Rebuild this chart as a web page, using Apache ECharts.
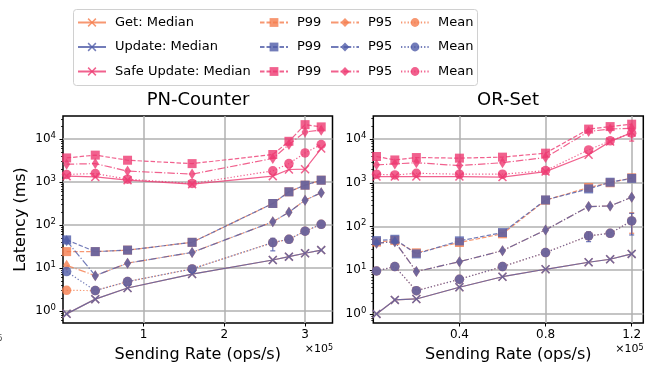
<!DOCTYPE html>
<html><head><meta charset="utf-8">
<script src="https://cdn.jsdelivr.net/npm/echarts@6/dist/echarts.min.js"></script>
<style>html,body{margin:0;padding:0;background:#fff}#c{width:659px;height:368px}</style>
</head><body><div id="c"></div>
<script>
// ---- data (x in units of 1e5 ops/s, latency in ms) ----
const pnX = [0.045, 0.4, 0.8, 1.6, 2.6, 2.8, 3.0, 3.2];
const pnGetMedian = [0.85, 1.87, 3.4, 7.2, 15.3, 18.3, 22, 26];
const pnGetP99 = [24, 24, 26, 39.5, 318, 594, 850, 1110];
const pnGetP95 = [11.5, 6.6, 12.9, 23, 119, 198, 380, 565];
const pnGetMean = [3.0, 2.96, 4.8, 9.5, 39, 46.5, 72, 104];
const pnUpdMedian = [0.85, 1.87, 3.4, 7.2, 15.3, 18.3, 22, 26];
const pnUpdP99 = [45, 24, 26, 39.5, 318, 594, 850, 1110];
const pnUpdP95 = [43, 6.6, 12.9, 23, 119, 198, 380, 565];
const pnUpdMean = [8.2, 2.96, 4.8, 9.5, 39, 46.5, 72, 104];
const pnSafeMedian = [1380, 1320, 1110, 895, 1380, 1970, 2000, 6070];
const pnSafeP99 = [3670, 4260, 3240, 2700, 4400, 8950, 21900, 19400];
const pnSafeP95 = [2620, 2700, 1810, 1540, 3560, 7520, 14800, 16300];
const pnSafeMean = [1510, 1590, 1170, 930, 1830, 2700, 4800, 7540];

const orX = [0.015, 0.1, 0.2, 0.4, 0.6, 0.8, 1.0, 1.1, 1.2];
const orGetMedian = [1.0, 2.09, 2.2, 4.08, 7.1, 10.5, 15.2, 17.8, 23.6];
const orGetP99 = [44, 48, 25, 43, 68, 400, 780, 1000, 1300];
const orGetP95 = [41.5, 45, 9.3, 15.7, 28, 83.5, 286, 295, 468];
const orGetMean = [9.6, 12.1, 3.4, 6.2, 12.1, 25.3, 61, 70, 134];
const orUpdMedian = [1.0, 2.09, 2.2, 4.08, 7.1, 10.5, 15.2, 17.8, 23.6];
const orUpdP99 = [47.5, 51, 23.6, 46.9, 72.6, 405, 724, 1030, 1260];
const orUpdP95 = [41.5, 45, 9.3, 15.7, 28, 83.5, 286, 295, 468];
const orUpdMean = [9.6, 12.1, 3.4, 6.2, 12.1, 25.3, 61, 70, 134];
const orSafeMedian = [1390, 1390, 1390, 1390, 1350, 1800, 4370, 8740, 14100];
const orSafeP99 = [3990, 3330, 3780, 3660, 3860, 4760, 16900, 19300, 21900];
const orSafeP95 = [2570, 2700, 2880, 2470, 2880, 3780, 14900, 17000, 17700];
const orSafeMean = [1570, 1510, 1650, 1570, 1570, 1900, 5640, 9120, 13600];

// error bars: [x, low, high]
const pnErrUpd = [[2.6, 25, 49]];
const orErrGet = [[1.2, 70, 205]];
const orErrUpd = [[1.0, 45, 76], [1.2, 64, 200]];
const orErrSafe = [[1.2, 9000, 17500]];

const yMajor = [1, 10, 100, 1000, 10000];
const yMinor = [0.6,0.7,0.8,0.9,2,3,4,5,6,7,8,9,20,30,40,50,60,70,80,90,200,300,400,500,600,700,800,900,2000,3000,4000,5000,6000,7000,8000,9000,20000,30000];
const pnXTicks = [1, 2, 3];
const orXTicks = [0.4, 0.8, 1.2];

// ---- styling ----
const FONT = 'DejaVu Sans';
const COL = {get: '#F57D4E', upd: '#4F5BA8', safe: '#EE3A72'};
const STAT = {
  Median: {symbol: 'path://M0,1.2L1.2,0L5,3.8L8.8,0L10,1.2L6.2,5L10,8.8L8.8,10L5,6.2L1.2,10L0,8.8L3.8,5Z', size: 9, dash: 'solid'},
  P99: {symbol: 'rect', size: 9, dash: [4.5, 2]},
  P95: {symbol: 'diamond', size: [7, 11], dash: [7.5, 2, 1.2, 2]},
  Mean: {symbol: 'circle', size: 9.5, dash: [1.3, 2]}
};
const OPS = [['get', 'Get'], ['upd', 'Update'], ['safe', 'Safe Update']];

function seriesName(opLabel, stat) {
  return stat === 'Median' ? opLabel + ': Median' : opLabel + ' ' + stat;
}
function mkLine(gi, op, opLabel, stat, xs, ys) {
  const st = STAT[stat];
  return {
    type: 'line', name: seriesName(opLabel, stat),
    xAxisIndex: gi, yAxisIndex: gi * 2,
    data: xs.map((x, i) => [x, ys[i]]),
    symbol: st.symbol, symbolSize: st.size, showAllSymbol: true,
    lineStyle: {color: COL[op], width: 1.2, type: st.dash, opacity: 0.8},
    itemStyle: {color: COL[op], opacity: 0.8},
    emphasis: {disabled: true}, animation: false, silent: true
  };
}
function mkErr(gi, op, arr) {
  return {
    type: 'custom', xAxisIndex: gi, yAxisIndex: gi * 2, data: arr, silent: true, animation: false,
    encode: {x: 0, y: [1, 2]}, z: 3,
    renderItem: function (params, api) {
      const x = api.value(0);
      const a = api.coord([x, api.value(1)]);
      const b = api.coord([x, api.value(2)]);
      const s = {stroke: COL[op], lineWidth: 1.2, opacity: 0.85};
      return {type: 'group', children: [
        {type: 'line', shape: {x1: a[0], y1: a[1], x2: b[0], y2: b[1]}, style: s},
        {type: 'line', shape: {x1: a[0] - 2.5, y1: a[1], x2: a[0] + 2.5, y2: a[1]}, style: s},
        {type: 'line', shape: {x1: b[0] - 2.5, y1: b[1], x2: b[0] + 2.5, y2: b[1]}, style: s}
      ]};
    }
  };
}

const panels = [
  {x: pnX, d: {get: [pnGetMedian, pnGetP99, pnGetP95, pnGetMean], upd: [pnUpdMedian, pnUpdP99, pnUpdP95, pnUpdMean], safe: [pnSafeMedian, pnSafeP99, pnSafeP95, pnSafeMean]}},
  {x: orX, d: {get: [orGetMedian, orGetP99, orGetP95, orGetMean], upd: [orUpdMedian, orUpdP99, orUpdP95, orUpdMean], safe: [orSafeMedian, orSafeP99, orSafeP95, orSafeMean]}}
];
const stats = ['Median', 'P99', 'P95', 'Mean'];
const series = [];
panels.forEach((p, gi) => {
  OPS.forEach(([op, lab]) => {
    stats.forEach((st, si) => series.push(mkLine(gi, op, lab, st, p.x, p.d[op][si])));
  });
});
series.push(mkErr(0, 'upd', pnErrUpd));
series.push(mkErr(1, 'get', orErrGet));
series.push(mkErr(1, 'upd', orErrUpd));
series.push(mkErr(1, 'safe', orErrSafe));

const tickFont = {fontFamily: FONT, fontSize: 12, color: '#000'};
function yMain(gi, min, max, showName) {
  return {
    type: 'log', logBase: 10, min: min, max: max, gridIndex: gi, position: 'left',
    name: showName ? 'Latency (ms)' : '', nameLocation: 'middle', nameGap: 34,
    nameTextStyle: {fontFamily: FONT, fontSize: 16, color: '#000'},
    axisLine: {show: false},
    axisTick: {show: true, length: 3.5, lineStyle: {color: '#000', width: 1}, customValues: yMajor},
    axisLabel: {show: true, margin: 7, customValues: yMajor,
      formatter: v => '{b|10}{s|' + Math.round(Math.log10(v)) + '}',
      rich: {b: {fontFamily: FONT, fontSize: 12, color: '#000', lineHeight: 16},
             s: {fontFamily: FONT, fontSize: 8.5, color: '#000', verticalAlign: 'top', lineHeight: 9}}},
    splitLine: {show: true, lineStyle: {color: '#b0b0b0', width: 1.5}},
    minorTick: {show: false}
  };
}
function yMinorAx(gi, min, max) {
  return {
    type: 'log', logBase: 10, min: min, max: max, gridIndex: gi, position: 'left', offset: 0,
    axisLine: {show: false}, axisLabel: {show: false}, splitLine: {show: false},
    axisTick: {show: true, length: 2, lineStyle: {color: '#000', width: 0.8}, customValues: yMinor.filter(v => v >= min && v <= max)}
  };
}
function xAx(gi, max, interval, ticks) {
  return {
    type: 'value', gridIndex: gi, min: 0, max: max, interval: interval, position: 'bottom',
    name: 'Sending Rate (ops/s)', nameLocation: 'middle', nameGap: 24,
    nameTextStyle: {fontFamily: FONT, fontSize: 16, color: '#000'},
    axisLine: {show: false},
    axisTick: {show: true, length: 3.5, lineStyle: {color: '#000', width: 1}, customValues: ticks},
    axisLabel: Object.assign({margin: 6, customValues: ticks, formatter: v => String(v)}, tickFont),
    splitLine: {show: true, lineStyle: {color: '#b0b0b0', width: 1.5}}
  };
}

function legendCol(left, stat) {
  return {
    orient: 'vertical', left: left, top: 16, padding: 0, itemGap: 11.5,
    itemWidth: 28, itemHeight: 11, selectedMode: false,
    data: OPS.map(o => seriesName(o[1], stat)),
    formatter: n => n.indexOf(':') >= 0 ? n : n.split(' ').pop(),
    textStyle: {fontFamily: FONT, fontSize: 13, color: '#000', padding: [0, 0, 0, 4]}
  };
}

const option = {
  animation: false,
  backgroundColor: '#fff',
  grid: [
    {left: 63, top: 116, width: 269.5, height: 207, show: true, borderColor: '#000', borderWidth: 1.5, backgroundColor: 'transparent', containLabel: false},
    {left: 373.3, top: 116, width: 270, height: 207, show: true, borderColor: '#000', borderWidth: 1.5, backgroundColor: 'transparent', containLabel: false}
  ],
  xAxis: [xAx(0, 3.34, 1, pnXTicks), xAx(1, 1.254, 0.4, orXTicks)],
  yAxis: [yMain(0, 0.52, 34800, true), yMinorAx(0, 0.52, 34800), yMain(1, 0.62, 33700, false), yMinorAx(1, 0.62, 33700)],
  legend: [legendCol(77, 'Median'), legendCol(259, 'P99'), legendCol(330, 'P95'), legendCol(400, 'Mean')],
  graphic: [
    {type: 'rect', z: -10, shape: {x: 73.5, y: 9.5, width: 404, height: 76, r: 3}, style: {fill: 'rgba(255,255,255,0.8)', stroke: '#d0d0d0', lineWidth: 1}},
    {type: 'text', x: 198, y: 100, style: {text: 'PN-Counter', fontFamily: FONT, fontSize: 18, fill: '#000', align: 'center', verticalAlign: 'middle'}},
    {type: 'text', x: 508, y: 100, style: {text: 'OR-Set', fontFamily: FONT, fontSize: 18, fill: '#000', align: 'center', verticalAlign: 'middle'}},
    {type: 'text', x: 333, y: 349, style: {text: '×10{s|5}', fontFamily: FONT, fontSize: 11, fill: '#000', align: 'right', verticalAlign: 'middle', rich: {s: {fontFamily: FONT, fontSize: 8, verticalAlign: 'top', lineHeight: 8}}}},
    {type: 'text', x: 643.5, y: 349, style: {text: '×10{s|5}', fontFamily: FONT, fontSize: 11, fill: '#000', align: 'right', verticalAlign: 'middle', rich: {s: {fontFamily: FONT, fontSize: 8, verticalAlign: 'top', lineHeight: 8}}}},
    {type: 'text', x: -3, y: 339, style: {text: '5', fontFamily: FONT, fontSize: 9, fill: '#555', verticalAlign: 'middle'}}
  ],
  series: series
};
const chart = echarts.init(document.getElementById('c'), null, {renderer: 'canvas'});
chart.setOption(option);
</script>
</body></html>
